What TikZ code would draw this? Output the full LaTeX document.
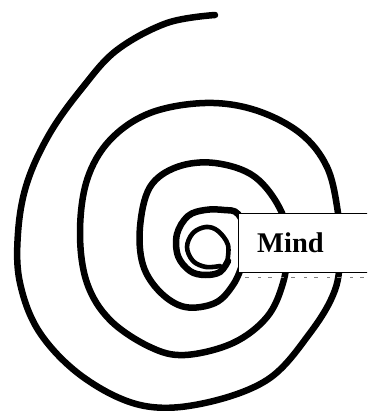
\documentclass[tikz,border=0pt]{standalone}
\usepackage{fontspec}
\setmainfont{Liberation Serif}
\begin{document}
\begin{tikzpicture}[x=1pt,y=-1pt,
  spiralline/.style={line width=6.5pt, line cap=round, line join=round},
  innerline/.style={line width=4.6pt, line cap=round, line join=round},
  labelbox/.style={draw, fill=white, line width=1.3pt, anchor=north west, inner sep=0pt, minimum width=140pt, minimum height=59pt},
  labeltext/.style={anchor=base west, inner sep=0pt, font=\fontsize{28.5}{28.5}\selectfont\bfseries}]
\useasboundingbox (0,0) rectangle (367,411);
\clip (0,0) rectangle (367,411);
\draw[spiralline] plot[smooth, tension=0.6] coordinates {
  (215,15) (167,23) (117,50) (83,87) (50,133) (27,183) (18,233) (20,283)
  (40,333) (83,377) (140,405) (200,404) (267,380) (310,333) (335,290)
  (340,250) (338,213) (327,167) (300,133) (255,110) (205,103) (150,113)
  (110,140) (87,180) (80,233) (87,283) (110,320) (150,347) (185,355)
  (233,343) (267,317) (283,283) (287,250) (282,213) (255,177) (215,163)
  (177,167) (150,187) (140,227) (143,265) (160,292) (185,307) (215,303)
  (233,285) (243,262) (248,238) (238,214) (224,210) (205,210) (188,216)
  (177,234) (178,256) (190,271) (205,275) (220,272) (228,261)};
\draw[innerline] plot[smooth, tension=0.6] coordinates {
  (227,263) (228,245) (218,231) (206,227) (193,233) (187,247) (193,261)
  (206,267) (220,266)};
\node[labelbox] (box) at (238,213) {};
\node[labeltext] (mind) at (257,252) {Mind};
\coordinate (shadowA) at (245,277);
\coordinate (shadowB) at (367,277);
\draw[gray, line width=0.8pt, dash pattern=on 4pt off 9pt on 3pt off 7pt] (shadowA) -- (shadowB);
\end{tikzpicture}
\end{document}
